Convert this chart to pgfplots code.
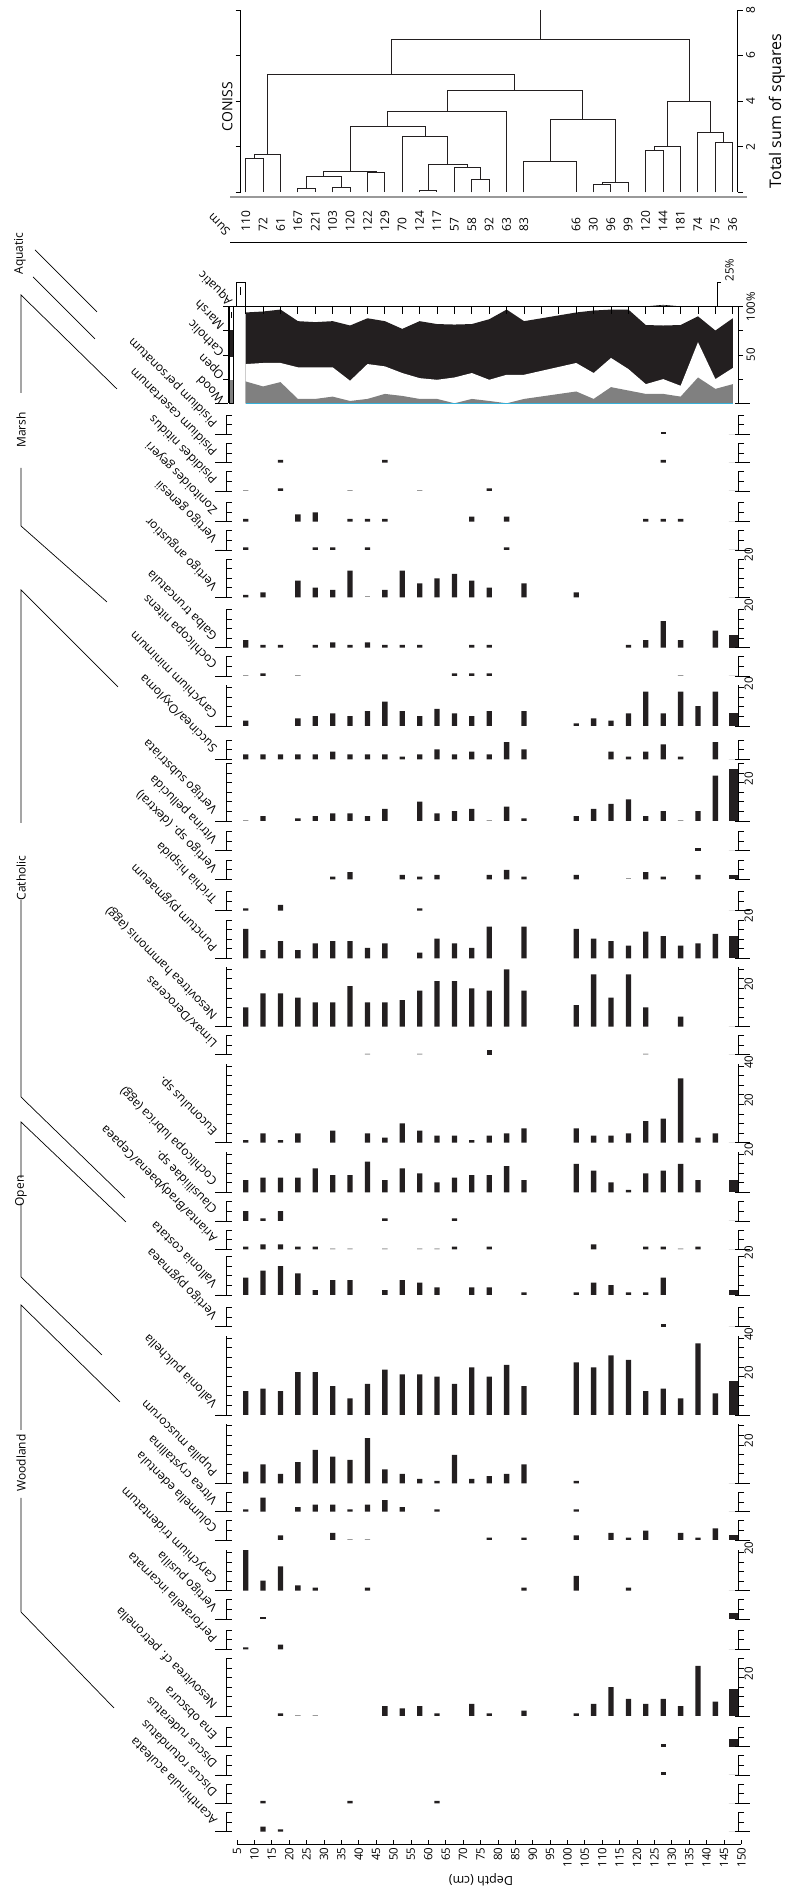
\documentclass[border=0pt]{standalone}
\usepackage{fontspec}
\setmainfont{Open Sans}
\usepackage{pgfplots}
\pgfplotsset{compat=1.18}
\definecolor{barc}{HTML}{231F20}
\definecolor{woodg}{HTML}{808080}
\definecolor{tinyg}{HTML}{9A9A9A}
\definecolor{cyanl}{HTML}{35B1DA}
\newcommand\taxfont{\fontsize{12}{13}\selectfont}
\newcommand\numfont{\fontsize{11.5}{12}\selectfont}
\pgfplotsset{
  every axis/.append style={/pgf/number format/assume math mode=true},
  panel/.style={scale only axis, width=512pt, anchor=south west, xmin=1.84, xmax=149, ymin=0, clip=false,
    axis x line=none, axis y line=box, ytick={0,5,...,40}, yticklabels={,,,,20,,,,40}, yticklabel pos=right,
    tick align=center, major tick length=6pt, tick style={xshift=3pt, line width=0.8pt, black},
    axis line style={line width=0.9pt, black},
    yticklabel style={rotate=90, anchor=north, font=\numfont, xshift=4pt}},
}
% #1 base (tikz y), #2 ymax, #3 bars, #4 label, #5 value at 147.5 (wide bar), #6 trace values (grey)
\newcommand{\panel}[6]{%
  \pgfmathsetmacro\ph{#2*1.917}%
  \begin{axis}[panel, at={(226pt,#1pt)}, ymax=#2, height=\ph pt]
    \addplot[ybar, bar width=5.3pt, fill=barc, draw=none] coordinates {#3};
    \addplot[ybar, bar width=9pt, fill=barc, draw=none] coordinates {(147.7,#5)};
    \addplot[ybar, bar width=5.3pt, fill=tinyg, draw=none] coordinates {#6};
    \draw[line width=0.9pt] ([xshift=-11pt]axis cs:1.84,0) -- ([xshift=3pt]axis cs:1.84,0);
    \draw[line width=0.9pt] ([xshift=-3pt]axis cs:149,0) -- ([xshift=12pt]axis cs:149,0);
  \end{axis}
  \node[rotate=135, anchor=base west, font=\taxfont, inner sep=0pt] at (218pt,{#1pt+12pt}) {#4};
}
\begin{document}
\begin{tikzpicture}

% ---------------- CONISS dendrogram ----------------
\begin{axis}[scale only axis, width=497pt, height=182.3pt, at={(240.7pt,1696.7pt)}, anchor=south west,
  xmin=6.06, xmax=149, ymin=0, ymax=8, clip=false, axis x line=none, axis y line=box,
  ytick={0,2,4,6,8}, yticklabels={,2,4,6,8}, yticklabel pos=right, tick align=outside, major tick length=5pt,
  tick style={line width=0.8pt,black}, axis line style={line width=0.9pt,black},
  yticklabel style={rotate=90, anchor=north, font=\fontsize{12}{13}\selectfont}, unbounded coords=jump]
\addplot[barc, line width=0.9pt] coordinates {
 (7.5,0) (7.5,1.5) (12.5,1.5) (12.5,0) (0,nan)
 (10,1.5) (10,1.64) (17.5,1.64) (17.5,0) (0,nan)
 (22.5,0) (22.5,0.15) (27.5,0.15) (27.5,0) (0,nan)
 (32.5,0) (32.5,0.22) (37.5,0.22) (37.5,0) (0,nan)
 (25,0.15) (25,0.71) (35,0.71) (35,0.22) (0,nan)
 (42.5,0) (42.5,0.86) (47.5,0.86) (47.5,0) (0,nan)
 (30,0.71) (30,0.92) (45,0.92) (45,0.86) (0,nan)
 (57.5,0) (57.5,0.07) (62.5,0.07) (62.5,0) (0,nan)
 (72.5,0) (72.5,0.57) (77.5,0.57) (77.5,0) (0,nan)
 (67.5,0) (67.5,1.08) (75,1.08) (75,0.57) (0,nan)
 (60,0.07) (60,1.21) (71.25,1.21) (71.25,1.08) (0,nan)
 (52.5,0) (52.5,2.43) (65.625,2.43) (65.625,1.21) (0,nan)
 (37.5,0.92) (37.5,2.91) (59.06,2.91) (59.06,2.43) (0,nan)
 (48.28,2.91) (48.28,3.55) (82.5,3.55) (82.5,0) (0,nan)
 (87.5,0) (87.5,1.36) (102.5,1.36) (102.5,0) (0,nan)
 (107.5,0) (107.5,0.35) (112.5,0.35) (112.5,0) (0,nan)
 (110,0.35) (110,0.45) (117.5,0.45) (117.5,0) (0,nan)
 (95,1.36) (95,3.2) (113.75,3.2) (113.75,0.45) (0,nan)
 (65.39,3.55) (65.39,4.46) (104.375,4.46) (104.375,3.2) (0,nan)
 (13.75,1.64) (13.75,5.19) (84.88,5.19) (84.88,4.46) (0,nan)
 (122.5,0) (122.5,1.83) (127.5,1.83) (127.5,0) (0,nan)
 (125,1.83) (125,1.99) (132.5,1.99) (132.5,0) (0,nan)
 (142.5,0) (142.5,2.19) (147.5,2.19) (147.5,0) (0,nan)
 (137.5,0) (137.5,2.61) (145,2.61) (145,2.19) (0,nan)
 (128.75,1.99) (128.75,3.97) (141.25,3.97) (141.25,2.61) (0,nan)
 (49.32,5.19) (49.32,6.72) (135,6.72) (135,3.97) (0,nan)
 (92.16,6.72) (92.16,8)
};
\foreach \d/\s in {7.5/110,12.5/72,17.5/61,22.5/167,27.5/221,32.5/103,37.5/120,42.5/122,47.5/129,52.5/70,57.5/124,62.5/117,67.5/57,72.5/58,77.5/92,82.5/63,87.5/83,102.5/66,107.5/30,112.5/96,117.5/99,122.5/120,127.5/144,132.5/181,137.5/74,142.5/75,147.5/36}{
  \edef\temp{\noexpand\node[rotate=90, anchor=west, inner sep=0pt, font=\noexpand\fontsize{12}{13}\noexpand\selectfont] at (axis cs:\d,-1.72) {\s};}
  \temp
}
\end{axis}
\node[rotate=90, font=\fontsize{14}{15}\selectfont] at (227.3pt,1782.3pt) {CONISS};
\node[rotate=90, font=\fontsize{16}{17}\selectfont] at (777pt,1778pt) {Total sum of squares};
\draw[gray!80, line width=2pt] (230pt,1692.3pt) -- (747pt,1692.3pt);
\node[rotate=135, anchor=base west, font=\taxfont, inner sep=0pt] at (231pt,1658pt) {Sum};
\draw[line width=0.9pt] (230pt,1646.7pt) -- (747pt,1646.7pt);

% ---------------- Ecological groups ----------------
\begin{axis}[scale only axis, width=510pt, height=96.6pt, at={(228pt,1485.7pt)}, anchor=south west,
  xmin=2.41, xmax=149, ymin=0, ymax=100, clip=false, axis x line=none, axis y line=box,
  ytick={0,25,50,75,100}, yticklabels={,,50,,100\%}, yticklabel pos=right, tick align=outside, major tick length=5pt,
  tick style={line width=0.8pt,black}, axis line style={line width=0.9pt,black},
  yticklabel style={rotate=90, anchor=north, font=\numfont}]
\addplot[fill=barc, draw=none] coordinates {(7.5,94) (12.5,95) (17.5,97) (22.5,85) (27.5,84) (32.5,85) (37.5,80.5) (42.5,88) (47.5,85) (52.5,77) (57.5,85) (62.5,82) (67.5,81.5) (72.5,82) (77.5,87) (82.5,97) (87.5,85) (102.5,94) (107.5,96) (112.5,97) (117.5,97) (122.5,81) (127.5,80.5) (132.5,81) (137.5,90) (142.5,75.3) (147.5,88)} \closedcycle;
\addplot[fill=white, draw=none] coordinates {(7.5,40.6) (12.5,41.7) (17.5,41.7) (22.5,37.2) (27.5,37.2) (32.5,37.2) (37.5,23.3) (42.5,40.6) (47.5,38.2) (52.5,31.3) (57.5,26) (62.5,24.3) (67.5,26.7) (72.5,31.3) (77.5,24.3) (82.5,29.5) (87.5,29.5) (102.5,41.7) (107.5,31.3) (112.5,46.9) (117.5,35.4) (122.5,19.8) (127.5,25) (132.5,18.1) (137.5,63.2) (142.5,25) (147.5,36.5)} \closedcycle;
\addplot[fill=woodg, draw=none] coordinates {(7.5,22.6) (12.5,17.4) (17.5,21.9) (22.5,4.5) (27.5,4.5) (32.5,6.9) (37.5,2.4) (42.5,4.5) (47.5,9.7) (52.5,7.6) (57.5,4.5) (62.5,4.5) (67.5,0) (72.5,4.5) (77.5,2.4) (82.5,0) (87.5,4.5) (102.5,12.2) (107.5,4.5) (112.5,16.7) (117.5,13.2) (122.5,9.7) (127.5,9.7) (132.5,6.9) (137.5,26.7) (142.5,14.9) (147.5,19.8)} \closedcycle;
\addplot[cyanl, line width=1.2pt] coordinates {(7.5,0) (147.5,0)};
\addplot[black, line width=0.6pt] coordinates {(122.5,100) (127.5,101.5) (132.5,100)};
\draw[line width=0.9pt] (axis cs:2.41,100) -- (axis cs:149,100);
\draw[line width=0.9pt] ([xshift=-13pt]axis cs:2.41,0) -- (axis cs:2.41,0);
\draw[line width=0.9pt] ([xshift=-3pt]axis cs:149,0) -- ([xshift=12pt]axis cs:149,0);
\foreach \d in {7.5,12.5,17.5,22.5,27.5,32.5,37.5,42.5,47.5,52.5,57.5,62.5,67.5,72.5,77.5,82.5,87.5,92.5,97.5,102.5,107.5,112.5,117.5,122.5,127.5,132.5,137.5,142.5,147.5}{
  \edef\temp{\noexpand\draw[line width=0.8pt] (axis cs:\d,100) -- ++(0pt,-7pt);}
  \temp
}
\draw[line width=0.8pt] (axis cs:143,100) -- (axis cs:143,125) -- ++(4pt,0pt);
\end{axis}
\node[rotate=90, anchor=north west, font=\numfont, inner sep=1pt] at (724pt,1606.5pt) {25\%};
% legend strip
\fill[woodg] (229.3pt,1485.7pt) rectangle (233.3pt,1509pt);
\fill[white] (229.3pt,1509pt) rectangle (233.3pt,1532.3pt);
\fill[barc] (229.3pt,1532.3pt) rectangle (233.3pt,1559pt);
\fill[white] (229.3pt,1559pt) rectangle (233.3pt,1582.3pt);
\draw[line width=1pt] (231.3pt,1571pt) -- (231.3pt,1577pt);
\draw[line width=0.6pt] (229.3pt,1485.7pt) rectangle (233.3pt,1582.3pt);
\draw[fill=white, line width=0.6pt] (236pt,1582.3pt) rectangle (245pt,1606.3pt);
\draw[line width=1pt] (240pt,1594pt) -- (240pt,1602pt);
\node[rotate=135, anchor=base west, font=\taxfont, inner sep=0pt] at (225pt,1490.7pt) {Wood};
\node[rotate=135, anchor=base west, font=\taxfont, inner sep=0pt] at (225pt,1514pt) {Open};
\node[rotate=135, anchor=base west, font=\taxfont, inner sep=0pt] at (225pt,1537.3pt) {Catholic};
\node[rotate=135, anchor=base west, font=\taxfont, inner sep=0pt] at (225pt,1564pt) {Marsh};
\node[rotate=135, anchor=base west, font=\taxfont, inner sep=0pt] at (233pt,1588.3pt) {Aquatic};

% ---------------- Taxa ----------------
\panel{1454.7}{10}{(127.5,1.4)}{Pisidium personatum}{0}{(0,0)}
\panel{1426.3}{10}{(17.5,1.4) (47.5,1.4) (127.5,1.4)}{Pisidium casertanum}{0}{(0,0)}
\panel{1398.0}{10}{(17.5,1.4) (77.5,1.4)}{Pisidides nitidus}{0}{(7.5,0.5) (37.5,0.5) (57.5,0.5)}
\panel{1367.3}{10}{(7.5,1.4) (22.5,3.8) (27.5,4.9) (37.5,1.4) (42.5,1.4) (47.5,1.4) (72.5,2.6) (82.5,2.6) (122.5,1.4) (127.5,1.4) (132.5,1.4)}{Zonitoides geyeri}{0}{(0,0)}
\panel{1339.0}{10}{(7.5,1.4) (27.5,1.4) (32.5,1.4) (42.5,1.4) (82.5,1.4)}{Vertigo genesii}{0}{(0,0)}
\panel{1291.7}{20}{(7.5,1.2) (12.5,2.6) (22.5,8.7) (27.5,5.0) (32.5,3.8) (37.5,13.9) (47.5,3.8) (52.5,13.9) (57.5,7.3) (62.5,9.9) (67.5,12.2) (72.5,8.7) (77.5,5.0) (87.5,7.3) (102.5,2.6)}{Vertigo angustior}{0}{(42.5,0.5)}
\panel{1241.3}{20}{(7.5,4.0) (12.5,1.4) (17.5,1.4) (27.5,1.4) (32.5,2.8) (37.5,1.4) (42.5,2.8) (47.5,1.4) (52.5,1.4) (57.5,1.4) (72.5,1.4) (77.5,1.4) (117.5,1.4) (122.5,4.0) (127.5,13.9) (132.5,4.0) (142.5,8.9)}{Galba truncatula}{6.6}{(0,0)}
\panel{1213.0}{10}{(12.5,1.4) (67.5,1.4) (72.5,1.4) (77.5,1.4)}{Cochlicopa nitens}{0}{(7.5,0.5) (22.5,0.5) (132.5,0.5)}
\panel{1163.0}{21.2}{(7.5,2.8) (22.5,4.0) (27.5,5.2) (32.5,6.6) (37.5,5.2) (42.5,7.8) (47.5,12.7) (52.5,7.8) (57.5,5.2) (62.5,8.9) (67.5,6.6) (72.5,5.2) (77.5,7.8) (87.5,7.8) (102.5,1.4) (107.5,4.0) (112.5,2.8) (117.5,6.6) (122.5,17.9) (127.5,6.6) (132.5,17.9) (137.5,10.4) (142.5,17.9)}{Carychium minimum}{6.6}{(0,0)}
\panel{1129.7}{10}{(7.5,2.6) (12.5,2.6) (17.5,2.6) (22.5,2.6) (27.5,2.6) (32.5,4.0) (37.5,2.6) (42.5,2.6) (47.5,2.6) (52.5,1.4) (57.5,2.6) (62.5,5.2) (67.5,2.6) (72.5,4.0) (77.5,2.6) (82.5,8.9) (87.5,5.2) (112.5,4.0) (117.5,1.4) (122.5,4.0) (127.5,7.8) (132.5,1.4) (142.5,8.9)}{Succinea/Oxyloma}{0}{(0,0)}
\panel{1068.0}{30}{(12.5,2.6) (22.5,1.4) (27.5,2.6) (32.5,4.0) (37.5,4.0) (42.5,2.6) (47.5,6.3) (57.5,10.1) (62.5,4.0) (67.5,5.2) (72.5,6.3) (82.5,7.5) (87.5,1.4) (102.5,2.6) (107.5,6.3) (112.5,8.9) (117.5,11.3) (122.5,2.6) (127.5,5.2) (137.5,5.2) (142.5,23.7)}{Vertigo substriata}{27.1}{(7.5,0.5) (77.5,0.5) (132.5,0.5)}
\panel{1038.3}{10}{(137.5,1.4)}{Vitrina pellucida}{0}{(0,0)}
\panel{1009.7}{10}{(32.5,1.4) (37.5,3.7) (52.5,2.3) (57.5,1.4) (62.5,2.3) (77.5,2.3) (82.5,4.9) (87.5,1.4) (102.5,2.3) (122.5,3.7) (127.5,1.4) (137.5,2.3)}{Vertigo sp. (dextral)}{2.3}{(117.5,0.5)}
\panel{978.3}{10}{(7.5,1.2) (17.5,3.0) (57.5,1.2)}{Trichia hispida}{0}{(0,0)}
\panel{930.7}{20}{(7.5,15.3) (12.5,4.3) (17.5,9.0) (22.5,4.3) (27.5,7.8) (32.5,9.0) (37.5,9.0) (42.5,5.4) (47.5,7.8) (57.5,3.0) (62.5,10.3) (67.5,7.8) (72.5,5.4) (77.5,16.5) (87.5,16.5) (102.5,15.3) (107.5,10.3) (112.5,9.0) (117.5,6.6) (122.5,13.9) (127.5,11.5) (132.5,6.6) (137.5,7.8) (142.5,12.7)}{Punctum pygmaeum}{11.5}{(0,0)}
\panel{862.3}{31}{(7.5,10.1) (12.5,17.4) (17.5,17.4) (22.5,15.1) (27.5,12.7) (32.5,12.7) (37.5,21.2) (42.5,12.7) (47.5,12.7) (52.5,13.9) (57.5,18.8) (62.5,23.8) (67.5,23.8) (72.5,20.0) (77.5,18.8) (82.5,29.9) (87.5,18.8) (102.5,11.3) (107.5,27.3) (112.5,15.1) (117.5,27.3) (122.5,10.1) (132.5,5.2)}{Nesovitrea hammonis (agg)}{0}{(0,0)}
\panel{834.3}{10}{(77.5,2.4)}{Limax/Deroceras}{0}{(42.5,0.5) (57.5,0.5) (122.5,0.5)}
\panel{746.3}{41}{(7.5,1.4) (12.5,4.9) (17.5,1.4) (22.5,4.9) (32.5,6.3) (42.5,4.9) (47.5,2.6) (52.5,10.1) (57.5,6.3) (62.5,3.7) (67.5,3.7) (72.5,1.4) (77.5,3.7) (82.5,4.9) (87.5,7.5) (102.5,7.5) (107.5,3.7) (112.5,3.7) (117.5,4.9) (122.5,11.3) (127.5,12.5) (132.5,33.6) (137.5,2.6) (142.5,4.9)}{Euconulus sp.}{0}{(0,0)}
\panel{696.7}{21.2}{(7.5,6.4) (12.5,7.7) (17.5,7.7) (22.5,7.7) (27.5,12.5) (32.5,8.9) (37.5,8.9) (42.5,16.0) (47.5,6.4) (52.5,12.5) (57.5,9.9) (62.5,5.2) (67.5,7.7) (72.5,8.9) (77.5,8.9) (82.5,13.7) (87.5,6.4) (102.5,14.8) (107.5,11.3) (112.5,5.2) (117.5,1.2) (122.5,9.9) (127.5,11.3) (132.5,14.8) (137.5,6.4)}{Cochlicopa lubrica (agg)}{6.4}{(0,0)}
\panel{668.0}{10}{(7.5,5.2) (12.5,1.4) (17.5,5.2) (47.5,1.4) (67.5,1.4)}{Clausiliidae sp.}{0}{(0,0)}
\panel{639.7}{10}{(7.5,1.4) (12.5,2.6) (17.5,2.6) (22.5,1.4) (27.5,1.4) (67.5,1.4) (77.5,1.4) (107.5,2.6) (122.5,1.4) (127.5,1.4) (137.5,1.4)}{Arianta/Bradybaena/Cepaea}{0}{(32.5,0.5) (37.5,0.5) (47.5,0.5) (57.5,0.5) (62.5,0.5) (132.5,0.5)}
\panel{594.0}{20}{(7.5,9.0) (12.5,12.7) (17.5,15.1) (22.5,11.3) (27.5,2.6) (32.5,7.8) (37.5,7.8) (47.5,2.6) (52.5,7.8) (57.5,6.4) (62.5,4.0) (72.5,4.0) (77.5,4.0) (87.5,1.4) (102.5,1.4) (107.5,6.4) (112.5,5.2) (117.5,1.4) (122.5,1.4) (127.5,9.0)}{Vallonia costata}{2.6}{(0,0)}
\panel{562.3}{10}{(127.5,1.4)}{Vertigo pygmaea}{0}{(0,0)}
\panel{474.0}{41}{(7.5,12.5) (12.5,13.7) (17.5,12.5) (22.5,22.4) (27.5,22.4) (32.5,15.0) (37.5,8.7) (42.5,16.2) (47.5,23.7) (52.5,21.2) (57.5,21.2) (62.5,20.0) (67.5,16.2) (72.5,24.9) (77.5,20.0) (82.5,26.1) (87.5,15.0) (102.5,27.5) (107.5,24.9) (112.5,31.1) (117.5,28.7) (122.5,12.5) (127.5,13.7) (132.5,8.7) (137.5,37.4) (142.5,11.3)}{Vallonia pulchella}{17.6}{(0,0)}
\panel{405.7}{31}{(7.5,6.1) (12.5,9.9) (17.5,4.9) (22.5,11.1) (27.5,17.4) (32.5,13.9) (37.5,12.2) (42.5,23.5) (47.5,7.3) (52.5,4.9) (57.5,2.3) (62.5,1.2) (67.5,14.8) (72.5,2.3) (77.5,3.7) (82.5,4.9) (87.5,9.9) (102.5,1.2)}{Pupilla muscorum}{0}{(0,0)}
\panel{377.3}{10}{(7.5,1.2) (12.5,7.3) (22.5,2.4) (27.5,3.7) (32.5,3.7) (37.5,1.2) (42.5,3.7) (47.5,6.1) (52.5,2.4) (62.5,1.2) (102.5,1.2)}{Vitrea crystallina}{0}{(0,0)}
\panel{349.0}{10}{(17.5,2.4) (32.5,3.7) (77.5,1.2) (87.5,1.2) (102.5,2.4) (112.5,3.7) (117.5,1.2) (122.5,4.9) (132.5,3.7) (137.5,1.2) (142.5,6.1)}{Columella edentula}{2.4}{(37.5,0.5) (42.5,0.5)}
\panel{298.3}{21.2}{(7.5,21.2) (12.5,5.2) (17.5,12.7) (22.5,2.8) (27.5,1.6) (42.5,1.6) (87.5,1.6) (102.5,7.7) (117.5,1.6)}{Carychium tridentatum}{0}{(0,0)}
\panel{270.0}{10}{(12.5,1.2)}{Vertigo pusilla}{3.0}{(0,0)}
\panel{239.7}{10}{(7.5,1.0) (17.5,2.4)}{Perforatella incarnata}{0}{(0,0)}
\panel{173.0}{30}{(17.5,1.4) (47.5,5.2) (52.5,4.0) (57.5,5.2) (62.5,1.4) (72.5,6.3) (77.5,1.4) (87.5,2.8) (102.5,1.4) (107.5,6.3) (112.5,15.0) (117.5,8.9) (122.5,6.3) (127.5,8.9) (132.5,5.2) (137.5,26.1) (142.5,7.5)}{Nesovitrea cf. petronella}{13.9}{(22.5,0.5) (27.5,0.5)}
\panel{142.3}{10}{(127.5,1.4)}{Ena obscura}{3.8}{(0,0)}
\panel{114.0}{10}{(127.5,1.4)}{Discus ruderatus}{0}{(0,0)}
\panel{85.7}{10}{(12.5,1.2) (37.5,1.2) (62.5,1.2)}{Discus rotundatus}{0}{(0,0)}
\panel{57.3}{10}{(12.5,2.6) (17.5,1.2)}{Acanthinula aculeata}{0}{(0,0)}

% ---------------- Depth axis ----------------
\begin{axis}[scale only axis, width=504.4pt, height=10pt, at={(237pt,44.7pt)}, anchor=south west,
  xmin=5, xmax=150, ymin=0, ymax=1, axis x line=bottom, axis y line=none,
  xtick={5,10,...,150}, tick align=inside, major tick length=4pt,
  tick style={line width=0.8pt,black}, axis line style={line width=0.9pt,black,-},
  xticklabel style={rotate=90, anchor=east, font=\numfont}]
\addplot[draw=none] coordinates {(5,0)};
\end{axis}
\node[rotate=180, font=\fontsize{12.5}{13}\selectfont] at (481pt,9pt) {Depth (cm)};

% ---------------- Group brackets ----------------
\begin{scope}[line width=0.7pt]
\draw (35pt,1639pt) -- (97pt,1577pt);
\draw (33pt,1612pt) -- (95pt,1550pt);
\draw (117pt,1500pt) -- (21pt,1594pt) -- (21pt,1496pt);
\draw (21pt,1421pt) -- (21pt,1363pt) -- (107pt,1287pt);
\draw (118pt,1202pt) -- (21pt,1299pt) -- (21pt,1066pt);
\draw (21pt,989pt) -- (21pt,792pt) -- (125pt,691pt);
\draw (126pt,667pt) -- (21pt,767pt) -- (21pt,711pt);
\draw (21pt,686pt) -- (21pt,612pt) -- (102pt,534pt);
\draw (120pt,487pt) -- (21pt,584pt) -- (21pt,459pt);
\draw (21pt,391pt) -- (21pt,277pt) -- (114pt,181pt);
\end{scope}
\node[rotate=90, font=\taxfont] at (20pt,1635.5pt) {Aquatic};
\node[rotate=90, font=\taxfont] at (21pt,1459pt) {Marsh};
\node[rotate=90, font=\taxfont] at (21pt,1011pt) {Catholic};
\node[rotate=90, font=\taxfont] at (21pt,698pt) {Open};
\node[rotate=90, font=\taxfont] at (21pt,426pt) {Woodland};
\pgfresetboundingbox
\path[use as bounding box] (0pt,0pt) rectangle (786pt,1889pt);
\end{tikzpicture}
\end{document}
